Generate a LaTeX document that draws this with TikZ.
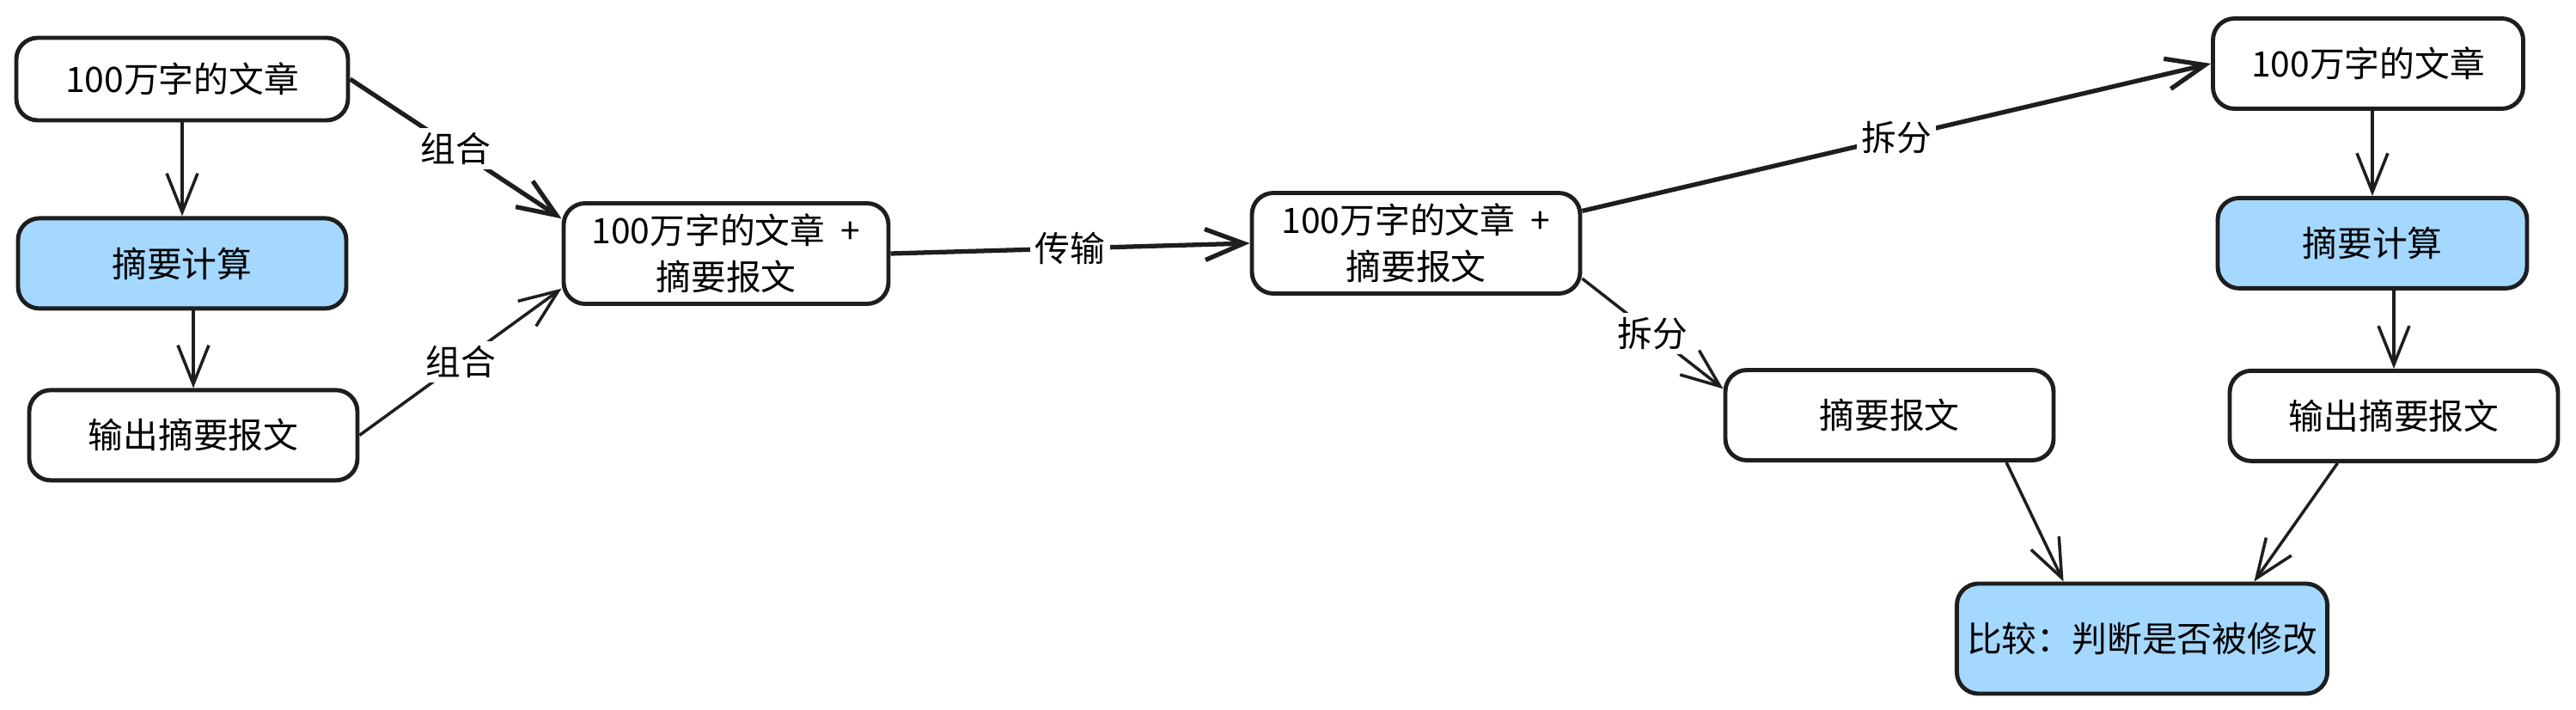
\documentclass[tikz,border=0pt]{standalone}
\usepackage{fontspec}
\usepackage{xcolor}
\usepackage{tikz}
\usetikzlibrary{arrows.meta, positioning}

\newfontfamily\cjk{Noto Sans CJK SC}
\definecolor{ink}{HTML}{1E1E1E}
\definecolor{calcblue}{HTML}{A5D8FF}

\begin{document}
\begin{tikzpicture}[
  box/.style={rectangle, draw=ink, rounded corners=2.5mm, line width=1.4pt,
              minimum width=3.82cm, minimum height=1.05cm, align=center,
              font=\cjk\fontsize{11.6}{15.5}\selectfont, fill=white},
  calcbox/.style={box, fill=calcblue},
  arr/.style={-{Straight Barb[length=4.5mm, width=3.6mm]}, line width=1pt, draw=ink},
  heavy/.style={arr, line width=1.5pt},
  lbl/.style={fill=white, inner sep=1.5pt, font=\cjk\fontsize{11.6}{13}\selectfont}
]
\useasboundingbox (0,0) rectangle (29.98,8.25);

% sender side
\node[box, minimum width=3.86cm, minimum height=0.96cm] (src) at (2.12,7.33) {100万字的文章};
\node[calcbox, below=1.09cm of src] (sum1) {摘要计算};
\node[box, below=0.9cm of sum1, xshift=1.3mm] (out1) {输出摘要报文};
\node[box, minimum width=3.78cm, minimum height=1.17cm] (pack1) at (8.45,5.30) {100万字的文章 \ +\\摘要报文};

% receiver side
\node[box, minimum height=1.17cm] (pack2) at (16.48,5.42) {100万字的文章 \ +\\摘要报文};
\node[box, minimum width=3.61cm] (doc2) at (27.56,7.51) {100万字的文章};
\node[calcbox, minimum width=3.6cm, below=0.99cm of doc2, xshift=0.5mm] (sum2) {摘要计算};
\node[box, below=0.91cm of sum2, xshift=2.5mm] (out2) {输出摘要报文};
\node[box] (recv) at (21.99,3.42) {摘要报文};
\node[calcbox, minimum width=4.21cm, minimum height=1.28cm] (cmp) at (24.93,0.82) {比较：判断是否被修改};

\foreach \a/\b in {src/sum1,sum1/out1,doc2/sum2,sum2/out2}
  \draw[arr] (\b.north |- \a.south) -- (\b.north);
\draw[heavy] (src.east) -- node[lbl] {组合} (pack1.168);
\draw[arr] (out1.east) -- node[lbl] {组合} (pack1.192);
\draw[heavy] (pack1.east) -- node[lbl] {传输} (pack2.west);
\draw[heavy] (pack2.11) -- node[lbl] {拆分} (doc2.west);
\draw[arr] (pack2.-12) -- node[lbl] {拆分} (recv.171);
\draw[arr] (recv.-22) -- (cmp.144);
\draw[arr] (out2.-140) -- (cmp.27);
\end{tikzpicture}
\end{document}
